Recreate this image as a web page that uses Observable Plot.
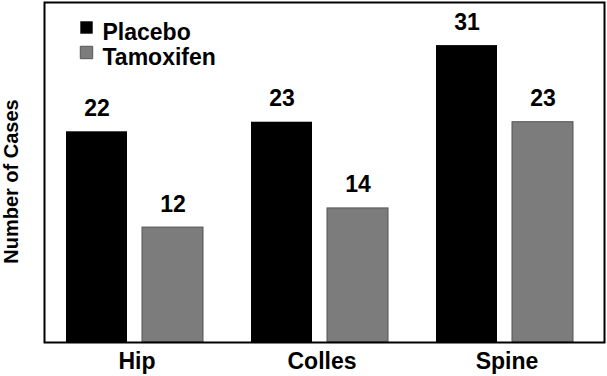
<!DOCTYPE html>
<html>
<head>
<meta charset="utf-8">
<script src="https://cdn.jsdelivr.net/npm/d3@7"></script>
<script src="https://cdn.jsdelivr.net/npm/@observablehq/plot@0.6"></script>
<style>
  html, body { margin: 0; padding: 0; background: #fff; }
  #chart { width: 607px; height: 376px; }
</style>
</head>
<body>
<div id="chart"></div>
<script>
const categories = ["Hip", "Colles", "Spine"];
const series = ["Placebo", "Tamoxifen"];
const placebo = [22, 23, 31];
const tamoxifen = [12, 14, 23];
const colors = ["#000000", "#7c7c7c"];
const yLabel = "Number of Cases";

const rows = [];
categories.forEach((c, i) => {
  rows.push({category: c, series: series[0], value: placebo[i]});
  rows.push({category: c, series: series[1], value: tamoxifen[i]});
});
const pRows = rows.filter(d => d.series === series[0]);
const tRows = rows.filter(d => d.series === series[1]);

const font = "'Liberation Sans', Arial, Helvetica, sans-serif";

const chart = Plot.plot({
  width: 607,
  height: 376,
  marginLeft: 44,
  marginRight: 3,
  marginTop: 2,
  marginBottom: 34,
  style: {fontFamily: font, fontSize: "23px", fontWeight: "bold", background: "#fff", color: "#000"},
  x: {domain: categories, paddingInner: 0.26, paddingOuter: 0.14, align: 0.42, axis: null},
  y: {domain: [0, 35.5], axis: null},
  marks: [
    Plot.barY(pRows, {x: "category", y: "value", fill: colors[0], insetRight: 76}),
    Plot.barY(tRows, {x: "category", y: "value", fill: colors[1], stroke: "#555", strokeWidth: 1, insetLeft: 76}),
    Plot.text(pRows, {x: "category", y: "value", text: d => String(d.value), dx: -38, dy: -16, lineAnchor: "bottom", fontSize: 23, fontWeight: "bold"}),
    Plot.text(tRows, {x: "category", y: "value", text: d => String(d.value), dx: 38, dy: -16, lineAnchor: "bottom", fontSize: 23, fontWeight: "bold"}),
    Plot.axisX({tickSize: 0, tickPadding: 10, label: null, fontSize: 23, fontWeight: "bold", dx: 2}),
    Plot.text([yLabel], {frameAnchor: "left", text: d => d, rotate: -90, dx: -33, dy: 9, textAnchor: "middle", fontSize: 20, fontWeight: "bold"}),
    Plot.dot([series[0]], {frameAnchor: "top-left", dx: 42, dy: 25, symbol: "square", r: 7, fill: colors[0]}),
    Plot.dot([series[1]], {frameAnchor: "top-left", dx: 42, dy: 50, symbol: "square", r: 7, fill: colors[1], stroke: "#555", strokeWidth: 1}),
    Plot.text([series[0]], {frameAnchor: "top-left", text: d => d, dx: 58, dy: 30, textAnchor: "start", lineAnchor: "middle", fontSize: 23, fontWeight: "bold"}),
    Plot.text([series[1]], {frameAnchor: "top-left", text: d => d, dx: 58, dy: 55, textAnchor: "start", lineAnchor: "middle", fontSize: 23, fontWeight: "bold"}),
    Plot.frame({stroke: "#000", strokeWidth: 2})
  ]
});
document.getElementById("chart").appendChild(chart);
</script>
</body>
</html>
